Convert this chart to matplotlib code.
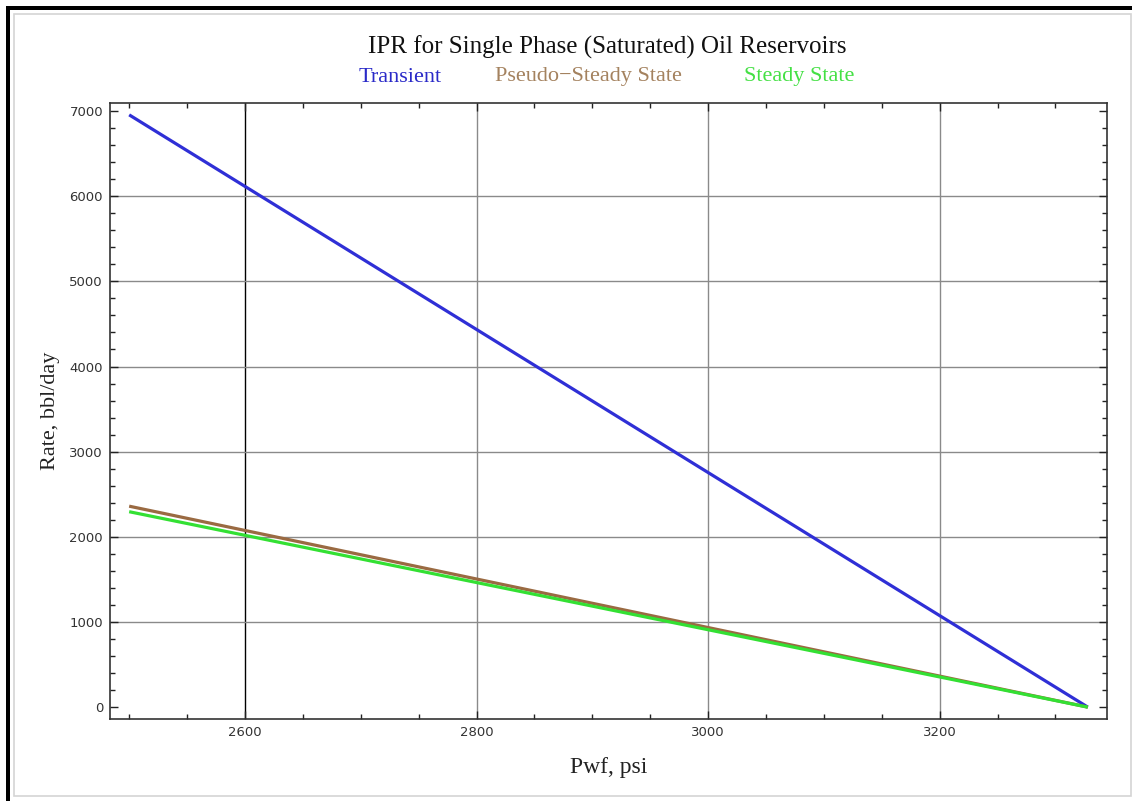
import matplotlib

matplotlib.use("Agg")
import matplotlib.pyplot as plt
from matplotlib.patches import Rectangle
from matplotlib.ticker import MultipleLocator

FIG_W, FIG_H = 1132, 801

# Flowing bottomhole pressure range (psi) and rate at each end (bbl/day)
PWF = [2500, 3328]
RATE_TRANSIENT = [6955, 0]
RATE_PSS = [2360, 0]
RATE_SS = [2295, 0]

SERIES_NAMES = ["Transient", "Pseudo\u2212Steady State", "Steady State"]
LINE_COLORS = ["#2f2fd6", "#9a6a42", "#33e033"]
LABEL_COLORS = ["#2a2ac8", "#a4825f", "#44e044"]

GRID_X = [2600, 2800, 3000, 3200]
GRID_Y = [1000, 2000, 3000, 4000, 5000, 6000]


def px(x, y):
    return x / FIG_W, 1 - y / FIG_H


def main():
    fig = plt.figure(figsize=(FIG_W / 100, FIG_H / 100), dpi=100)
    fig.patch.set_facecolor("white")

    # outer frame: thick black strips on left/top, light grey inner box
    fig.add_artist(Rectangle((6 / FIG_W, 0), 4 / FIG_W, 1 - 6 / FIG_H,
                             transform=fig.transFigure, color="black", lw=0))
    fig.add_artist(Rectangle((6 / FIG_W, 1 - 10 / FIG_H), 1, 4 / FIG_H,
                             transform=fig.transFigure, color="black", lw=0))
    x0, y1 = px(14, 14)
    x1, y0 = px(1131, 796)
    fig.add_artist(Rectangle((x0, y0), x1 - x0, y1 - y0, transform=fig.transFigure,
                             fill=False, edgecolor="#d4d4d4", lw=1.2))

    left, top = px(110, 103)
    right, bottom = px(1107, 719)
    ax = fig.add_axes([left, bottom, right - left, top - bottom])

    for xv in GRID_X:
        ax.axvline(xv, color="black" if xv == 2600 else "#8a8a8a", lw=1.0, zorder=1)
    for yv in GRID_Y:
        ax.axhline(yv, color="#8a8a8a", lw=1.0, zorder=1)

    for rates, color in zip([RATE_TRANSIENT, RATE_PSS, RATE_SS], LINE_COLORS):
        ax.plot(PWF, rates, color=color, lw=2.3, solid_capstyle="butt", zorder=3)

    pad_x = 0.02 * (PWF[1] - PWF[0])
    ax.set_xlim(PWF[0] - pad_x, PWF[1] + pad_x)
    pad_y = 0.02 * RATE_TRANSIENT[0]
    ax.set_ylim(-pad_y, RATE_TRANSIENT[0] + pad_y)

    ax.xaxis.set_major_locator(MultipleLocator(200))
    ax.xaxis.set_minor_locator(MultipleLocator(50))
    ax.yaxis.set_major_locator(MultipleLocator(1000))
    ax.yaxis.set_minor_locator(MultipleLocator(200))
    ax.tick_params(which="both", direction="in", top=True, right=True,
                   colors="#222222", labelcolor="#333333", labelsize=9.5)
    ax.tick_params(which="major", length=6, width=1.0, pad=5)
    ax.tick_params(which="minor", length=3.5, width=1.0)
    for spine in ax.spines.values():
        spine.set_color("#333333")
        spine.set_linewidth(1.2)

    serif = "Liberation Serif"
    ax.set_xlabel("Pwf, psi", family=serif, fontsize=17, color="#222222", labelpad=13)
    ax.set_ylabel("Rate, bbl/day", family=serif, fontsize=16, color="#222222", labelpad=7)

    tx, ty = px(607, 47)
    fig.text(tx, ty, "IPR for Single Phase (Saturated) Oil Reservoirs", family=serif,
             fontsize=18, color="#111111", ha="center", va="center")
    for name, color, cx in zip(SERIES_NAMES, LABEL_COLORS, [400, 588, 799]):
        lx, ly = px(cx, 77)
        fig.text(lx, ly, name, family=serif, fontsize=16, color=color,
                 ha="center", va="center")

    fig.savefig("out.png", dpi=100)
    plt.close(fig)


if __name__ == "__main__":
    main()
